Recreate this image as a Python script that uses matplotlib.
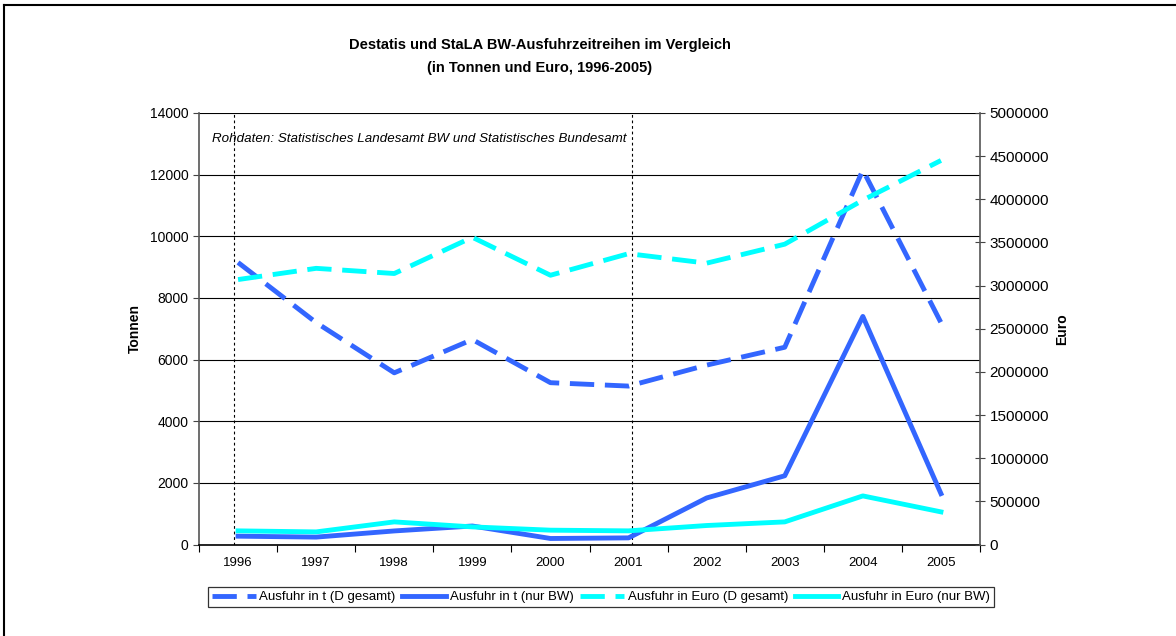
import matplotlib.pyplot as plt
from matplotlib.lines import Line2D

plt.rcParams['font.family'] = ['Liberation Sans', 'DejaVu Sans']

years = ['1996', '1997', '1998', '1999', '2000', '2001', '2002', '2003', '2004', '2005']
t_gesamt = [9150, 7200, 5570, 6650, 5250, 5140, 5820, 6400, 12150, 7200]
t_bw = [270, 240, 440, 600, 195, 215, 1510, 2230, 7400, 1650]
euro_gesamt = [3070000, 3200000, 3140000, 3560000, 3120000, 3370000, 3260000, 3480000, 3990000, 4450000]
euro_bw = [158000, 146000, 262000, 204000, 166000, 158000, 220000, 262000, 563000, 378000]

blue = '#3366FF'
cyan = '#00FFFF'

fig = plt.figure(figsize=(11.76, 6.36), dpi=100)
ax = fig.add_axes([199/1176, 1-544.5/636, 781/1176, 431.5/636])
ax2 = ax.twinx()

x = list(range(len(years)))
ax.plot(x, t_gesamt, color=blue, lw=3.5, dashes=(5, 2.2), zorder=3)
ax.plot(x, t_bw, color=blue, lw=3.5, zorder=3)
ax2.plot(x, euro_gesamt, color=cyan, lw=3.5, dashes=(5, 2.2), zorder=3)
ax2.plot(x, euro_bw, color=cyan, lw=3.5, zorder=3)

# marker lines at 1996 and 2001
for xv in [-0.05, 5.05]:
    ax.axvline(xv, color='black', lw=0.8, ls=(0, (2.5, 2.5)), zorder=2)

ax.set_xlim(-0.5, 9.5)
ax.set_ylim(0, 14000)
ax2.set_ylim(0, 5000000)
ax.set_yticks(range(0, 14001, 2000))
ax2.set_yticks(range(0, 5000001, 500000))
ax2.set_yticklabels([str(v) for v in range(0, 5000001, 500000)])
ax.grid(axis='y', color='black', lw=0.8)
ax.set_axisbelow(True)

ax.set_xticks([i - 0.5 for i in range(11)])
ax.set_xticklabels([])
ax.set_xticks(x, minor=True)
ax.set_xticklabels(years, minor=True)
ax.tick_params(axis='x', which='major', direction='out', length=5, color='black')
ax.tick_params(axis='x', which='minor', length=0, pad=9, labelsize=9.5)
ax.tick_params(axis='y', direction='out', length=4, labelsize=10, color='#444444')
ax2.tick_params(axis='y', direction='inout', length=7, labelsize=11, color='#444444')

for a in (ax, ax2):
    a.spines['top'].set_visible(False)
ax2.spines['left'].set_visible(False)
ax2.spines['bottom'].set_visible(False)
ax.spines['right'].set_visible(False)
ax.spines['left'].set_color('#555555')
ax2.spines['right'].set_color('#555555')
ax.spines['left'].set_linewidth(1.2)
ax2.spines['right'].set_linewidth(1.2)
ax.spines['bottom'].set_linewidth(1.2)

ax.set_ylabel('Tonnen', fontsize=10, fontweight='bold', labelpad=6)
ax2.set_ylabel('Euro', fontsize=10, fontweight='bold', labelpad=4)

ax.text(0.017, 0.94, 'Rohdaten: Statistisches Landesamt BW und Statistisches Bundesamt',
        transform=ax.transAxes, fontsize=9.6, style='italic', va='center')

fig.text(540/1176, 1-45/636, 'Destatis und StaLA BW-Ausfuhrzeitreihen im Vergleich',
         ha='center', va='center', fontsize=10.5, fontweight='bold')
fig.text(540/1176, 1-68/636, '(in Tonnen und Euro, 1996-2005)',
         ha='center', va='center', fontsize=10.5, fontweight='bold')

handles = [Line2D([], [], color=blue, lw=3.5, dashes=(5, 2.2)),
           Line2D([], [], color=blue, lw=3.5),
           Line2D([], [], color=cyan, lw=3.5, dashes=(5, 2.2)),
           Line2D([], [], color=cyan, lw=3.5)]
labels = ['Ausfuhr in t (D gesamt)', 'Ausfuhr in t (nur BW)',
          'Ausfuhr in Euro (D gesamt)', 'Ausfuhr in Euro (nur BW)']
leg = fig.legend(handles, labels, loc='center', bbox_to_anchor=(601/1176, 1-597/636),
                 ncol=4, fontsize=9.5, frameon=True, fancybox=False, handlelength=3.3,
                 columnspacing=0.5, handletextpad=0.3, borderpad=0.3)
leg.get_frame().set_edgecolor('black')
leg.get_frame().set_linewidth(0.9)

# outer frame (top and left visible)
fig.add_artist(Line2D([4/1176, 4/1176], [0, 1-5/636], color='black', lw=1.5))
fig.add_artist(Line2D([4/1176, 1], [1-5/636, 1-5/636], color='black', lw=1.5))

fig.savefig('out.png', dpi=100)
